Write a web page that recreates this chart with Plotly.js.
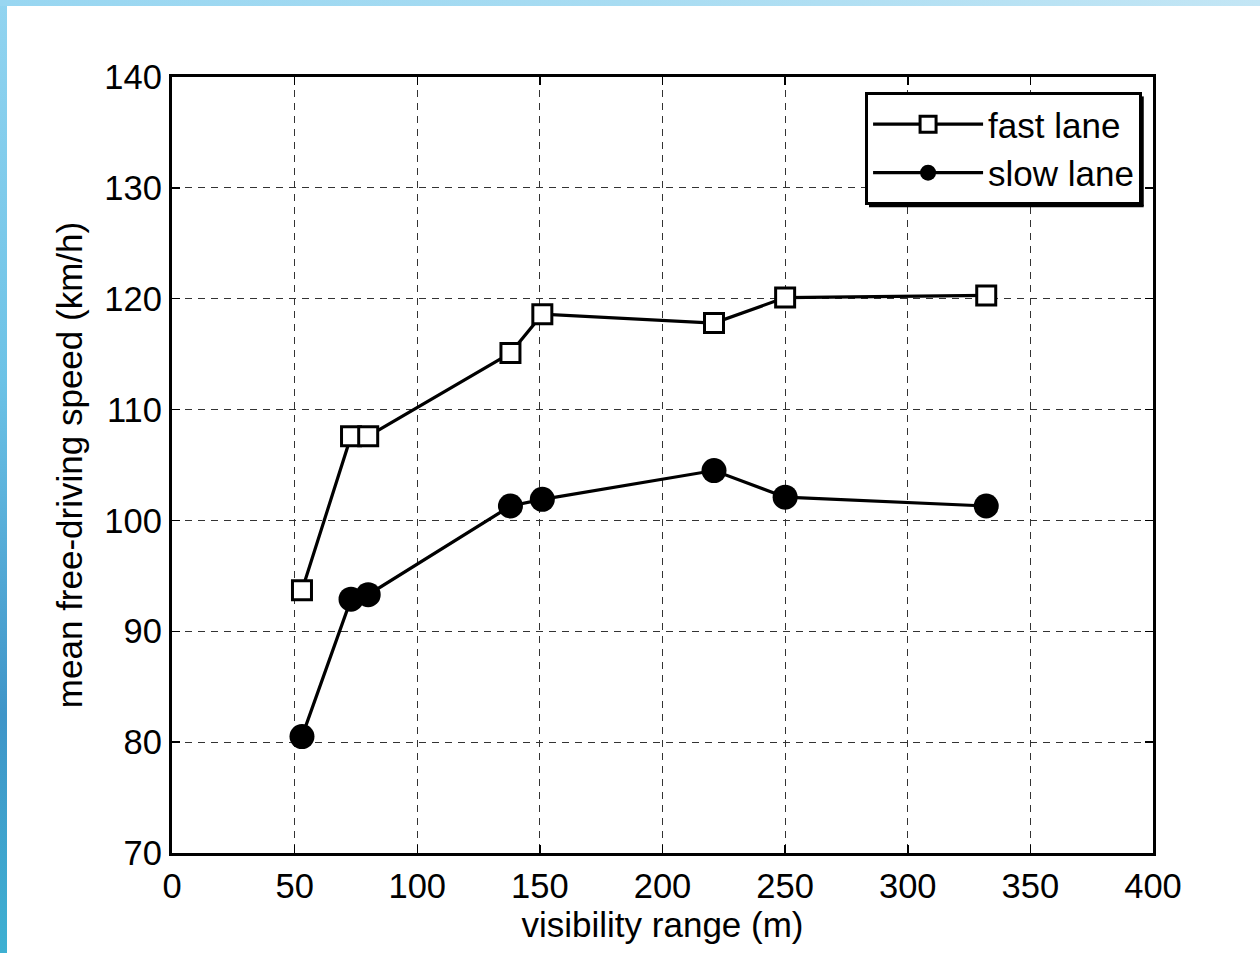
<!DOCTYPE html>
<html>
<head>
<meta charset="utf-8">
<script src="https://cdn.plot.ly/plotly-3.0.1.min.js"></script>
<style>
  html, body { margin:0; padding:0; width:1260px; height:953px; overflow:hidden; }
  #bg { position:absolute; left:0; top:0; width:1260px; height:953px;
        background: linear-gradient(to bottom, #92d4f0 0%, #6cc2e6 40%, #3f95c8 75%, #3eb0d2 100%); }
  #topbar { position:absolute; left:0; top:0; width:1260px; height:6px;
        background: linear-gradient(to right, #98d6f1 0%, #a8dcf2 50%, #c3e6f5 100%); }
  #white { position:absolute; left:7px; top:6px; width:1253px; height:947px; background:#fff; }
  #chart { position:absolute; left:0; top:0; width:1260px; height:953px; }
</style>
</head>
<body>
<div id="bg"></div>
<div id="topbar"></div>
<div id="white"></div>
<div id="chart"></div>
<script>
const visibility = [53, 73, 80, 138, 151, 221, 250, 332];
const fastLane = [93.7, 107.6, 107.6, 115.1, 118.6, 117.8, 120.1, 120.3];
const slowLane = [80.5, 92.9, 93.3, 101.3, 101.9, 104.5, 102.1, 101.3];
const xTicks = [0, 50, 100, 150, 200, 250, 300, 350, 400];
const yTicks = [70, 80, 90, 100, 110, 120, 130, 140];

const font = {family: 'Liberation Sans, Arial, sans-serif', color: '#000'};

const traces = [
  {x: visibility, y: fastLane, name: 'fast lane', mode: 'lines+markers',
   line: {color: '#000', width: 3.2},
   marker: {symbol: 'square', size: 19, color: '#fff', line: {color: '#000', width: 3}}},
  {x: visibility, y: slowLane, name: 'slow lane', mode: 'lines+markers',
   line: {color: '#000', width: 3.2},
   marker: {symbol: 'circle', size: 25, color: '#000', line: {color: '#000', width: 0}}}
];

const axisCommon = {
  showline: true, linecolor: '#000', linewidth: 3.2, mirror: 'ticks',
  ticks: 'inside', ticklen: 8, tickwidth: 1.5, tickcolor: '#000',
  showgrid: true, gridcolor: '#333', griddash: '7px,6px', gridwidth: 1,
  zeroline: false, tickfont: Object.assign({size: 34.5}, font)
};

const layout = {
  width: 1260, height: 953,
  paper_bgcolor: 'rgba(0,0,0,0)', plot_bgcolor: '#fff',
  margin: {l: 172, r: 107, t: 77, b: 100},
  showlegend: true,
  xaxis: Object.assign({}, axisCommon, {
    range: [0, 400], tickvals: xTicks, ticktext: xTicks.map(String),
    title: {text: 'visibility range (m)', font: Object.assign({size: 35}, font), standoff: 8}
  }),
  yaxis: Object.assign({}, axisCommon, {
    range: [70, 140], tickvals: yTicks, ticktext: yTicks.map(String),
    title: {text: 'mean free-driving speed (km/h)', font: Object.assign({size: 35}, font), standoff: 12}
  }),
  legend: {
    x: 0.7065, y: 0.9808, xanchor: 'left', yanchor: 'top',
    bgcolor: '#fff', bordercolor: '#000', borderwidth: 3,
    font: Object.assign({size: 35}, font),
    tracegroupgap: 0, itemwidth: 110
  },
  shapes: [
    {type: 'line', xref: 'paper', yref: 'paper', x0: 0.9893, x1: 0.9893, y0: 0.975, y1: 0.8338,
     line: {color: '#000', width: 2.5}},
    {type: 'line', xref: 'paper', yref: 'paper', x0: 0.7105, x1: 0.9905, y0: 0.8338, y1: 0.8338,
     line: {color: '#000', width: 2.5}}
  ]
};

Plotly.newPlot('chart', traces, layout, {displayModeBar: false, staticPlot: true});
</script>
</body>
</html>
